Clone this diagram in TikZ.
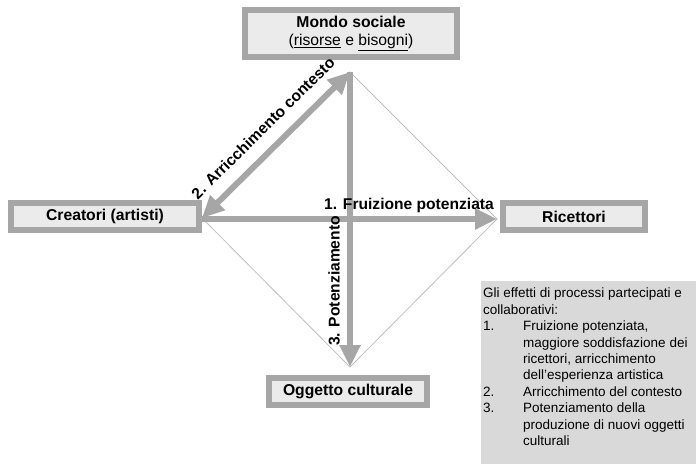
\documentclass[tikz,border=0pt]{standalone}
\usepackage{fontspec}
\setmainfont{Liberation Sans}
\usetikzlibrary{arrows.meta}
\definecolor{arrowgray}{HTML}{A6A6A6}
\definecolor{boxborder}{HTML}{A6A6A6}
\definecolor{boxfill}{HTML}{EBEBEB}
\definecolor{legfill}{HTML}{D9D9D9}
\definecolor{thingray}{HTML}{BDBDBD}
\begin{document}
\begin{tikzpicture}[x=1pt,y=-1pt,
  entity/.style={draw=boxborder, line width=6pt, fill=boxfill, inner sep=0pt,
    font=\fontsize{15.7}{18}\selectfont\bfseries, align=center},
  thinline/.style={draw=thingray, line width=0.8pt},
  thick arrow/.style={draw=arrowgray, line width=6pt,
    -{Triangle[width=20pt,length=22pt]}},
  dbl arrow/.style={draw=arrowgray, line width=6pt,
    {Triangle[width=20pt,length=22pt]}-{Triangle[width=20pt,length=22pt]}},
  lbl/.style={font=\fontsize{15.6}{18}\selectfont\bfseries, inner sep=0pt}]
\useasboundingbox (0,0) rectangle (699,466);
% boxes
\node[entity, minimum width=212pt, minimum height=47pt] (mondo) at (351,33.5)
  {Mondo sociale\\{\mdseries(\underline{risorse} e \underline{bisogni})}};
\node[entity, minimum width=188pt, minimum height=27pt] (creatori) at (105,216.5) {Creatori (artisti)};
\node[entity, minimum width=142pt, minimum height=27pt] (ricettori) at (574,216.5) {Ricettori};
\node[entity, minimum width=158pt, minimum height=27pt] (oggetto) at (348,391.5) {Oggetto culturale};
% diamond vertices
\coordinate (T) at (350,72);
\coordinate (L) at (202,218);
\coordinate (R) at (497,219);
\coordinate (B) at (350,367);
\coordinate (Lh) at (202,219);
% thin diamond
\draw[thinline] (L) -- (T) -- (R) -- (B) -- cycle;
% thick arrows
\draw[thick arrow] (Lh) -- (R);
\draw[thick arrow] (T) -- (B);
\draw[dbl arrow] (L) -- (T);
% labels
\node[lbl] (l1) at (409,205) {1. Fruizione potenziata};
\node[lbl, rotate=44.6] (l2) at (263,128) {2. Arricchimento contesto};
\node[lbl, rotate=90] (l3) at (334,281) {3. Potenziamento};
% legend
\fill[legfill] (481,281) rectangle (696,464);
\node[anchor=north west, inner sep=0pt, align=left,
  font=\fontsize{13.5}{16.4}\selectfont] (legend) at (483,288)
  {Gli effetti di processi partecipati e\\
   collaborativi:\\
   \makebox[40pt][l]{1.}Fruizione potenziata,\\
   \hspace*{40pt}maggiore soddisfazione dei\\
   \hspace*{40pt}ricettori, arricchimento\\
   \hspace*{40pt}dell’esperienza artistica\\
   \makebox[40pt][l]{2.}Arricchimento del contesto\\
   \makebox[40pt][l]{3.}Potenziamento della\\
   \hspace*{40pt}produzione di nuovi oggetti\\
   \hspace*{40pt}culturali};
\end{tikzpicture}
\end{document}
